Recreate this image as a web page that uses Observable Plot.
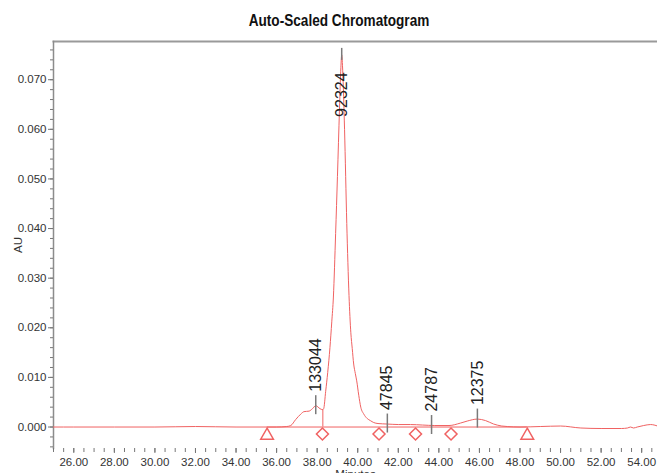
<!DOCTYPE html>
<html><head><meta charset="utf-8">
<script src="https://cdn.jsdelivr.net/npm/d3@7"></script>
<script src="https://cdn.jsdelivr.net/npm/@observablehq/plot@0.6"></script>
<style>
body{margin:0;background:#fff;width:657px;height:473px;overflow:hidden;}
#title{height:36px;position:relative;}
#title span{position:absolute;left:339px;top:12px;transform:translateX(-50%) scaleX(0.85);font:bold 16px "Liberation Sans", Arial, sans-serif;color:#111;white-space:nowrap;}
#chart svg{display:block;}
</style></head><body>
<div id="title"><span>Auto-Scaled Chromatogram</span></div>
<div id="chart"></div>
<script>
// Chromatogram trace (minutes, AU)
const times = [25.0, 26.0, 28.0, 30.0, 32.0, 34.0, 35.5, 36.0, 36.5, 36.7, 36.94, 37.19, 37.35, 37.6, 37.77, 37.93, 38.14, 38.26,
  38.32, 38.42, 38.52, 38.63, 38.72, 38.80, 38.91, 39.00, 39.10, 39.17, 39.21, 39.26, 39.35, 39.46, 39.57, 39.66, 39.73, 39.80,
  39.88, 39.95, 40.05, 40.15, 40.30, 40.47, 40.62, 40.79, 41.00, 41.46, 42.0, 42.6, 43.2, 43.8, 44.5, 45.07, 45.4, 45.9, 46.3,
  46.7, 47.1, 47.37, 48.0, 49.0, 50.0, 51.0, 52.0, 53.0, 53.3, 53.45, 53.6, 53.78, 54.1, 54.44, 54.78];
const au = [0.0000, 0.0000, 0.0000, 0.0000, 0.0001, 0.0000, 0.0000, 0.0000, 0.0001, 0.0003, 0.0015, 0.0026, 0.0031, 0.0032, 0.0037, 0.0043, 0.0037, 0.0035,
  0.0037, 0.0072, 0.0110, 0.0160, 0.0212, 0.0262, 0.0390, 0.0505, 0.0640, 0.0725, 0.0750, 0.0718, 0.0600, 0.0410, 0.0265, 0.0190, 0.0158, 0.0127,
  0.0108, 0.0093, 0.0064, 0.0040, 0.0026, 0.0017, 0.0013, 0.0009, 0.0007, 0.0006, 0.0005, 0.0005, 0.0004, 0.0003, 0.0003, 0.0008, 0.0012, 0.0016, 0.0013,
  0.0006, 0.0002, 0.0001, 0.0000, 0.0001, 0.0002, -0.0002, -0.0003, -0.0003, -0.0002, 0.0000, -0.0002, 0.0000, 0.0003, 0.0005, 0.0002];

// Peak annotations
const peakTimes = [37.93, 39.21, 41.46, 43.64, 45.9];
const peakHeights = [0.0043, 0.0750, 0.0006, 0.0003, 0.0016];
const peakLabels = ["133044", "92324", "47845", "24787", "12375"];

// Integration markers
const triangleTimes = [35.53, 48.36];
const diamondTimes = [38.26, 41.05, 42.85, 44.6];
const dropTime = 38.28;
const dropHeight = 0.0035;

// Axis ticks
const xMajor = [26, 28, 30, 32, 34, 36, 38, 40, 42, 44, 46, 48, 50, 52, 54];
const xMinor = d3.range(25, 54.76, 0.5);
const yMajor = [0, 0.01, 0.02, 0.03, 0.04, 0.05, 0.06, 0.07];
const yMinor = d3.range(-0.004, 0.0771, 0.002);

const red = "#f06262";
const peaks = peakTimes.map((t, i) => ({t, h: peakHeights[i], label: peakLabels[i]}));
const lowPeaks = peaks.filter(p => p.h < 0.05);
const highPeaks = peaks.filter(p => p.h >= 0.05);
const trace = times.map((t, i) => ({t, v: au[i]}));

const chart = Plot.plot({
  width: 657, height: 447,
  marginTop: 5, marginLeft: 53, marginRight: 0, marginBottom: 35,
  style: {fontFamily: '"Liberation Sans", Arial, sans-serif', fontSize: "11px", color: "#333", background: "white", overflow: "visible"},
  x: {domain: [25, 54.78]},
  y: {domain: [-0.00433, 0.0777]},
  marks: [
    Plot.frame({anchor: "top", stroke: "#9a9a9a", strokeWidth: 2}),
    Plot.frame({anchor: "left", stroke: "#8c8c8c", strokeWidth: 1.5}),
    Plot.axisY(yMinor, {tickSize: 3, tickFormat: () => "", label: null, stroke: "#777"}),
    Plot.axisY(yMajor, {tickSize: 5, tickPadding: 2, tickFormat: d => d.toFixed(3), stroke: "#777",
      label: "AU", labelAnchor: "center", labelOffset: 40, labelArrow: "none", fontSize: 11.5}),
    Plot.axisX(xMinor, {tickSize: 4, tickFormat: () => "", label: null, stroke: "#777"}),
    Plot.axisX(xMajor, {tickSize: 5, tickPadding: 4, tickFormat: d => d.toFixed(2), stroke: "#777",
      label: "Minutes", labelAnchor: "center", labelOffset: 29, labelArrow: "none", fontSize: 11.5}),
    Plot.ruleY([0], {x1: triangleTimes[0], x2: triangleTimes[1], stroke: red, strokeWidth: 1}),
    Plot.ruleX([dropTime], {y1: 0, y2: dropHeight, stroke: red, strokeWidth: 1}),
    Plot.line(trace, {x: "t", y: "v", stroke: red, strokeWidth: 1, curve: "monotone-x", clip: true}),
    Plot.dot(triangleTimes, {x: d => d, y: 0, symbol: "triangle", r: 4.7, stroke: red, fill: "white", dy: 8.5}),
    Plot.dot(diamondTimes, {x: d => d, y: 0, symbol: "diamond2", r: 5.4, stroke: red, fill: "white", dy: 7}),
    Plot.ruleX(lowPeaks, {x: "t", y1: "h", y2: "h", insetTop: -10, insetBottom: -9, stroke: "#7a7a7a", strokeWidth: 1.5}),
    Plot.text(lowPeaks, {x: "t", y: "h", text: "label", rotate: -90, textAnchor: "start", dy: -14, fontSize: 16, fill: "#222"}),
    Plot.ruleX(highPeaks, {x: "t", y1: "h", y2: "h", insetTop: -6.5, insetBottom: -5.5, stroke: "#7a7a7a", strokeWidth: 1.5}),
    Plot.text(highPeaks, {x: "t", y: "h", text: "label", rotate: -90, textAnchor: "end", dy: 17.5, fontSize: 16, fill: "#222"})
  ]
});
document.getElementById("chart").append(chart);
</script></body></html>
